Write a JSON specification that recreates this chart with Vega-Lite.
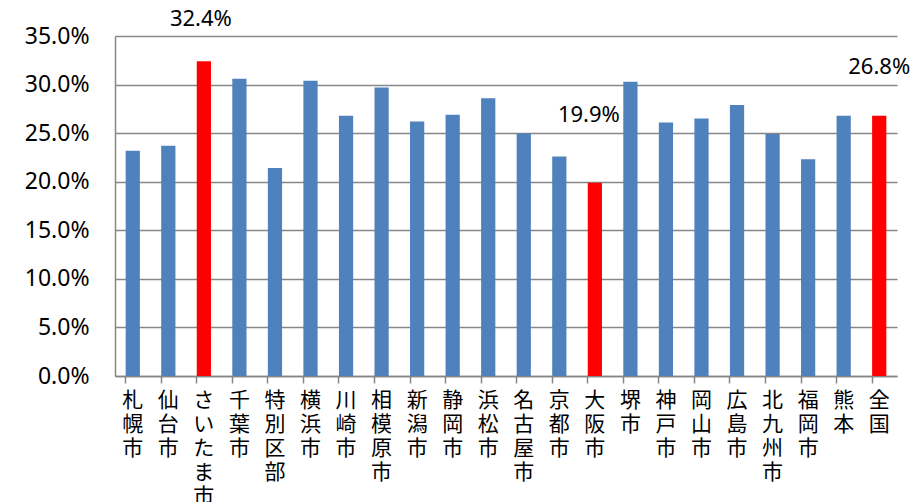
{
  "$schema": "https://vega.github.io/schema/vega-lite/v6.json",
  "autosize": "none",
  "padding": {"left": 115, "top": 36, "right": 26, "bottom": 126},
  "width": 782,
  "height": 340,
  "background": "white",
  "data": {"values": [
    {"city": "札幌市", "rate": 0.232},
    {"city": "仙台市", "rate": 0.237},
    {"city": "さいたま市", "rate": 0.324},
    {"city": "千葉市", "rate": 0.306},
    {"city": "特別区部", "rate": 0.214},
    {"city": "横浜市", "rate": 0.304},
    {"city": "川崎市", "rate": 0.268},
    {"city": "相模原市", "rate": 0.297},
    {"city": "新潟市", "rate": 0.262},
    {"city": "静岡市", "rate": 0.269},
    {"city": "浜松市", "rate": 0.286},
    {"city": "名古屋市", "rate": 0.250},
    {"city": "京都市", "rate": 0.226},
    {"city": "大阪市", "rate": 0.199},
    {"city": "堺市", "rate": 0.303},
    {"city": "神戸市", "rate": 0.261},
    {"city": "岡山市", "rate": 0.265},
    {"city": "広島市", "rate": 0.279},
    {"city": "北九州市", "rate": 0.249},
    {"city": "福岡市", "rate": 0.223},
    {"city": "熊本", "rate": 0.268},
    {"city": "全国", "rate": 0.268}
  ]},
  "encoding": {
    "x": {
      "field": "city", "type": "nominal", "sort": null,
      "scale": {"paddingInner": 0.6, "paddingOuter": 0.3},
      "axis": {
        "title": null, "labelAngle": 0, "bandPosition": 0,
        "labelExpr": "split(datum.label, '')",
        "labelFont": "Noto Sans CJK JP", "labelFontSize": 21, "labelLineHeight": 24,
        "labelColor": "black", "labelPadding": 6, "labelBaseline": "top",
        "domainColor": "#868686", "domainWidth": 1.5,
        "tickColor": "#868686", "tickSize": 7, "tickWidth": 1.5,
        "grid": false
      }
    },
    "y": {
      "field": "rate", "type": "quantitative",
      "scale": {"domain": [0, 0.35], "nice": false},
      "axis": {
        "title": null, "format": ".1%",
        "values": [0, 0.05, 0.1, 0.15, 0.2, 0.25, 0.3, 0.35],
        "labelFont": "Noto Sans", "labelFontSize": 23, "labelColor": "black",
        "labelPadding": 26, "ticks": false,
        "domainColor": "#868686", "domainWidth": 1.5,
        "grid": true, "gridColor": "#878787", "gridWidth": 1.5
      }
    }
  },
  "layer": [
    {
      "mark": {"type": "bar"},
      "encoding": {
        "color": {
          "condition": {"test": "indexof(['さいたま市','大阪市','全国'], datum.city) >= 0", "value": "#FF0000"},
          "value": "#4F81BD"
        }
      }
    },
    {
      "transform": [{"filter": "datum.city == 'さいたま市'"}],
      "mark": {"type": "text", "font": "Noto Sans", "fontSize": 22, "color": "black", "baseline": "middle", "dx": -3, "dy": -42},
      "encoding": {"text": {"field": "rate", "format": ".1%"}}
    },
    {
      "transform": [{"filter": "datum.city == '大阪市'"}],
      "mark": {"type": "text", "font": "Noto Sans", "fontSize": 22, "color": "black", "baseline": "middle", "dx": -6, "dy": -68},
      "encoding": {"text": {"field": "rate", "format": ".1%"}}
    },
    {
      "transform": [{"filter": "datum.city == '全国'"}],
      "mark": {"type": "text", "font": "Noto Sans", "fontSize": 22, "color": "black", "baseline": "middle", "dx": 0, "dy": -49},
      "encoding": {"text": {"field": "rate", "format": ".1%"}}
    }
  ],
  "config": {"view": {"stroke": null}}
}
